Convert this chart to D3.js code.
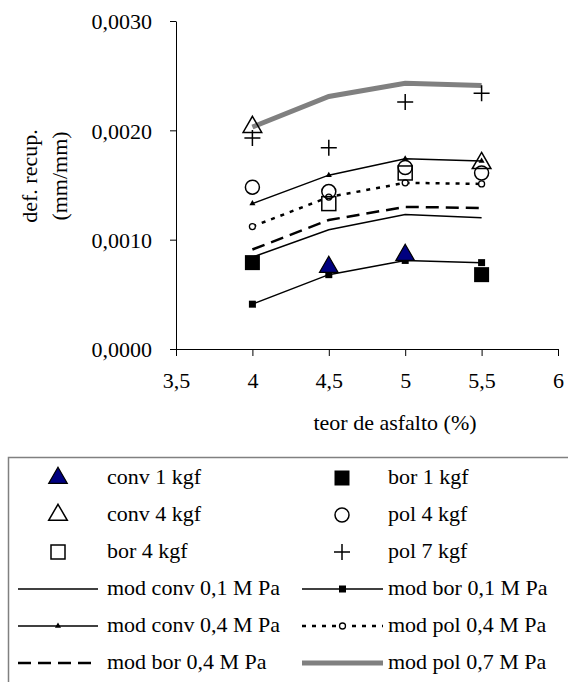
<!DOCTYPE html>
<html>
<head>
<meta charset="utf-8">
<script src="https://cdn.jsdelivr.net/npm/d3@7"></script>
<style>
  body { margin: 0; background: #fff; }
  text { font-family: "Liberation Serif", "Times New Roman", serif; fill: #000; }
</style>
</head>
<body>
<div id="chart"></div>
<script>
const xValues = [4, 4.5, 5, 5.5];
const xTicks = [3.5, 4, 4.5, 5, 5.5, 6];
const yTicks = [0, 0.001, 0.002, 0.003];

// measured points (x, y)
const conv1 = [[4.5, 0.00075], [5, 0.00086]];
const bor1 = [[4, 0.00079], [5.5, 0.00068]];
const conv4 = [[4, 0.00203], [5.5, 0.00170]];
const pol4 = [[4, 0.00148], [4.5, 0.00144], [5, 0.00166], [5.5, 0.00161]];
const bor4 = [[4.5, 0.00133], [5, 0.00161]];
const pol7 = [[4, 0.00193], [4.5, 0.00184], [5, 0.00226], [5.5, 0.00234]];

// model curves, one value per xValues
const modConv01 = [0.00084, 0.00109, 0.00123, 0.00120];
const modBor01 = [0.00041, 0.00068, 0.00081, 0.00079];
const modConv04 = [0.00133, 0.00159, 0.00174, 0.00172];
const modPol04 = [0.00112, 0.00139, 0.00152, 0.00151];
const modBor04 = [0.00091, 0.00118, 0.00130, 0.00129];
const modPol07 = [0.00203, 0.00231, 0.00243, 0.00241];

const width = 568, height = 682;
const svg = d3.select("#chart").append("svg")
  .attr("width", width).attr("height", height);

const x = d3.scaleLinear().domain([3.5, 6]).range([176, 558]);
const y = d3.scaleLinear().domain([0, 0.003]).range([349, 21]);
const fmtY = v => d3.format(".4f")(v).replace(".", ",");
const fmtX = v => String(v).replace(".", ",");

// axes
const xAxis = d3.axisBottom(x).tickValues(xTicks).tickSize(7).tickSizeOuter(0).tickFormat(fmtX);
const yAxis = d3.axisLeft(y).tickValues(yTicks).tickSize(6).tickSizeOuter(0).tickFormat(fmtY);

const gx = svg.append("g").attr("transform", "translate(0,349)").call(xAxis);
gx.selectAll("text").attr("font-size", 22).attr("font-family", "Liberation Serif")
  .attr("dy", null).attr("y", 39);
const gy = svg.append("g").attr("transform", "translate(176,0)").call(yAxis);
gy.selectAll("text").attr("font-size", 22).attr("font-family", "Liberation Serif")
  .attr("x", -24).attr("dy", "0.35em");
svg.selectAll(".domain, .tick line").attr("stroke", "#000").attr("stroke-width", 1);

svg.append("text").attr("x", 395).attr("y", 430).attr("text-anchor", "middle")
  .attr("font-size", 22).text("teor de asfalto (%)");
const yt = svg.append("text").attr("transform", "translate(37,176) rotate(-90)")
  .attr("text-anchor", "middle").attr("font-size", 22);
yt.append("tspan").attr("x", 0).attr("y", 0).text("def. recup.");
yt.append("tspan").attr("x", 0).attr("y", 30).text("(mm/mm)");

const line = d3.line().x(d => x(d[0])).y(d => y(d[1]));
const pairs = vals => xValues.map((v, i) => [v, vals[i]]);

const sym = {
  tri: d3.symbol().type(d3.symbolTriangle),
  sq: d3.symbol().type(d3.symbolSquare)
};

const lineSeries = [
  { name: "mod conv 0,1 M Pa", vals: modConv01, color: "#000", w: 1.5, dash: null, mark: null },
  { name: "mod bor 0,1 M Pa", vals: modBor01, color: "#000", w: 1.5, dash: null, mark: "sq" },
  { name: "mod conv 0,4 M Pa", vals: modConv04, color: "#000", w: 1.5, dash: null, mark: "tri" },
  { name: "mod pol 0,4 M Pa", vals: modPol04, color: "#000", w: 2.5, dash: "4,6", mark: "circ" },
  { name: "mod bor 0,4 M Pa", vals: modBor04, color: "#000", w: 2.5, dash: "13,7", mark: null },
  { name: "mod pol 0,7 M Pa", vals: modPol07, color: "#808080", w: 5, dash: null, mark: null }
];

function drawMark(g, type, cx, cy) {
  if (type === "sq") {
    g.append("path").attr("d", sym.sq.size(49)())
      .attr("transform", `translate(${cx},${cy})`).attr("fill", "#000");
  } else if (type === "tri") {
    g.append("path").attr("d", sym.tri.size(16)())
      .attr("transform", `translate(${cx},${cy})`).attr("fill", "#000");
  } else if (type === "circ") {
    g.append("circle").attr("cx", cx).attr("cy", cy).attr("r", 3)
      .attr("fill", "#fff").attr("stroke", "#000").attr("stroke-width", 1.3);
  }
}

const plot = svg.append("g");
lineSeries.forEach(s => {
  const data = pairs(s.vals);
  plot.append("path").attr("d", line(data)).attr("fill", "none")
    .attr("stroke", s.color).attr("stroke-width", s.w)
    .attr("stroke-dasharray", s.dash);
  if (s.mark) data.forEach(d => drawMark(plot, s.mark, x(d[0]), y(d[1])));
});

// point series
const pointSeries = [
  { name: "conv 1 kgf", data: conv1, draw: (g, cx, cy) => g.append("path").attr("d", sym.tri.size(150)())
      .attr("transform", `translate(${cx},${cy})`).attr("fill", "#000080").attr("stroke", "#000").attr("stroke-width", 1.2) },
  { name: "bor 1 kgf", data: bor1, draw: (g, cx, cy) => g.append("rect").attr("x", cx - 7.5).attr("y", cy - 7.5)
      .attr("width", 15).attr("height", 15).attr("fill", "#000") },
  { name: "conv 4 kgf", data: conv4, draw: (g, cx, cy) => g.append("path").attr("d", sym.tri.size(150)())
      .attr("transform", `translate(${cx},${cy})`).attr("fill", "none").attr("stroke", "#000").attr("stroke-width", 1.5) },
  { name: "pol 4 kgf", data: pol4, draw: (g, cx, cy) => g.append("circle").attr("cx", cx).attr("cy", cy).attr("r", 7)
      .attr("fill", "none").attr("stroke", "#000").attr("stroke-width", 1.5) },
  { name: "bor 4 kgf", data: bor4, draw: (g, cx, cy) => g.append("rect").attr("x", cx - 7).attr("y", cy - 7)
      .attr("width", 14).attr("height", 14).attr("fill", "none").attr("stroke", "#000").attr("stroke-width", 1.5) },
  { name: "pol 7 kgf", data: pol7, draw: (g, cx, cy) => g.append("path")
      .attr("d", `M${cx - 8},${cy}H${cx + 8}M${cx},${cy - 8}V${cy + 8}`).attr("stroke", "#000").attr("stroke-width", 1.5) }
];

pointSeries.forEach(s => s.data.forEach(d => s.draw(plot, x(d[0]), y(d[1]))));

// legend
const lg = svg.append("g");
lg.append("rect").attr("x", 8.5).attr("y", 457.5).attr("width", 570).attr("height", 240)
  .attr("fill", "none").attr("stroke", "#808080").attr("stroke-width", 1.5);

const rowY = i => 478 + i * 37;
const legendOrder = [
  { kind: "pt", s: pointSeries[0] }, { kind: "pt", s: pointSeries[1] },
  { kind: "pt", s: pointSeries[2] }, { kind: "pt", s: pointSeries[3] },
  { kind: "pt", s: pointSeries[4] }, { kind: "pt", s: pointSeries[5] },
  { kind: "ln", s: lineSeries[0] }, { kind: "ln", s: lineSeries[1] },
  { kind: "ln", s: lineSeries[2] }, { kind: "ln", s: lineSeries[3] },
  { kind: "ln", s: lineSeries[4] }, { kind: "ln", s: lineSeries[5] }
];
legendOrder.forEach((item, i) => {
  const col = i % 2, row = Math.floor(i / 2);
  const cy = rowY(row);
  const tx = col === 0 ? 107 : 388;
  if (item.kind === "pt") {
    item.s.draw(lg, col === 0 ? 58 : 342, cy);
  } else {
    const x0 = col === 0 ? 18 : 302, x1 = col === 0 ? 98 : 383;
    lg.append("path").attr("d", `M${x0},${cy}H${x1}`).attr("stroke", item.s.color)
      .attr("stroke-width", item.s.w).attr("stroke-dasharray", item.s.dash);
    if (item.s.mark) drawMark(lg, item.s.mark, (x0 + x1) / 2, cy);
  }
  lg.append("text").attr("x", tx).attr("y", cy + 6).attr("font-size", 22).text(item.s.name);
});
</script>
</body>
</html>
